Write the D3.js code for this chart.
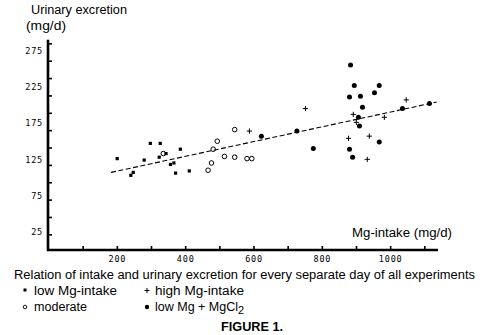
<!DOCTYPE html>
<html><head><meta charset="utf-8">
<script src="https://cdn.jsdelivr.net/npm/d3@7"></script>
<style>
body{margin:0;background:#fff}
svg{display:block}
.t{font-family:"Liberation Sans",Arial,sans-serif;fill:#000}
.tick text{font-family:"DejaVu Sans Mono",monospace;font-size:8.5px;letter-spacing:0.8px;fill:#000}
</style></head><body>
<script>
// ---- data ----
const lowMgX = [201,241,248,280,298,327,324,344,357,367,386,372,412];
const lowMgY = [126,103,107,124,147,147,128,133,118,120,139,106,109];
const moderateX = [336,467,477,482,494,515,545,545,581,595];
const moderateY = [133,110,120,139,150,129,166,128,126,126];
const highMgX = [588,752,892,901,983,1047,878,939,933];
const highMgY = [164,195,187,176,183,207,154,157,125];
const mgcl2X = [623,727,775,881,890,968,884,895,968,881,913,954,919,1036,1115,907,910];
const mgcl2Y = [157,164,140,139,128,149,255,227,227,211,212,217,197,195,202,183,171];
const fitX = [183,1136];
const fitY = [107,204];
const xTicks = [100,200,300,400,500,600,700,800,900,1000,1100];
const xTickLabels = [200,400,600,800,1000];
const yTicks = [25,50,75,100,125,150,175,200,225,250,275,300];
const yTickLabels = [25,75,125,175,225,275];

const W=495,H=335;
const svg=d3.select("body").append("svg").attr("width",W).attr("height",H);

const x=d3.scaleLinear().domain([0,1140]).range([48.5,438]);
const y=d3.scaleLinear().domain([0,290]).range([250,39.7]);
const yTickScale=d3.scaleLinear().domain([0,300]).range([251.7,43.35]);

// y tick marks
svg.append("g").attr("transform","translate(48,0)")
  .call(d3.axisLeft(yTickScale).tickValues(yTicks).tickSize(-4).tickFormat(""))
  .call(g=>g.select(".domain").remove())
  .call(g=>g.selectAll(".tick line").attr("stroke","#000").attr("stroke-width",1.6));
// y labels
svg.append("g").attr("transform","translate(48,0)")
  .call(d3.axisLeft(y).tickValues(yTickLabels).tickSize(0).tickPadding(5))
  .call(g=>g.select(".domain").remove());
// x axis
svg.append("g").attr("transform","translate(0,250)")
  .call(d3.axisBottom(x).tickValues(xTicks).tickSize(-4).tickPadding(5.5)
    .tickFormat(d=>xTickLabels.includes(d)?d:""))
  .call(g=>g.select(".domain").remove())
  .call(g=>g.selectAll(".tick line").attr("stroke","#000").attr("stroke-width",1.6));
// axis lines
svg.append("path").attr("d",`M48,${y.range()[1]}V250H438`).attr("fill","none")
  .attr("stroke","#000").attr("stroke-width",2.6);

// fit line
svg.append("path")
  .attr("d",d3.line()(fitX.map((v,i)=>[x(v),y(fitY[i])])))
  .attr("stroke","#000").attr("stroke-width",1.1).attr("fill","none")
  .attr("stroke-dasharray","5,2.5");

const pts=(xs,ys)=>xs.map((v,i)=>({x:v,y:ys[i]}));
// low Mg-intake squares
svg.append("g").selectAll("rect").data(pts(lowMgX,lowMgY)).join("rect")
  .attr("x",d=>x(d.x)-1.6).attr("y",d=>y(d.y)-1.6).attr("width",3.2).attr("height",3.2).attr("fill","#000");
// moderate open circles
svg.append("g").selectAll("circle").data(pts(moderateX,moderateY)).join("circle")
  .attr("cx",d=>x(d.x)).attr("cy",d=>y(d.y)).attr("r",2.3).attr("fill","none").attr("stroke","#000").attr("stroke-width",1);
// high plus
svg.append("g").selectAll("path").data(pts(highMgX,highMgY)).join("path")
  .attr("d",d=>`M${x(d.x)-2.6},${y(d.y)}h5.2M${x(d.x)},${y(d.y)-2.6}v5.2`).attr("stroke","#000").attr("stroke-width",1);
// MgCl2 filled
svg.append("g").selectAll("circle").data(pts(mgcl2X,mgcl2Y)).join("circle")
  .attr("cx",d=>x(d.x)).attr("cy",d=>y(d.y)).attr("r",2.5).attr("fill","#000");

// texts
function txt(s,xx,yy,opts={}){
  const t=svg.append("text").attr("class","t").attr("x",xx).attr("y",yy)
    .style("font-size",(opts.size||12)+"px").text(s);
  if(opts.bold) t.style("font-weight","bold");
  if(opts.anchor) t.attr("text-anchor",opts.anchor);
  if(opts.len) t.attr("textLength",opts.len).attr("lengthAdjust","spacingAndGlyphs");
  return t;
}
txt("Urinary excretion",31,14,{size:12.5,len:96});
txt("(mg/d)",26,29.5,{size:12.5,len:40});
txt("Mg\u2010intake (mg/d)",352,237,{size:12.5,len:100});
txt("Relation of intake and urinary excretion for every separate day of all experiments",14,278.5,{size:12.5,len:461});
txt("low Mg\u2010intake",34,294.5,{size:12.5,len:83});
txt("high Mg\u2010intake",155,294.5,{size:12.5,len:89});
txt("moderate",34,311,{size:12.5,len:53});
const t2=txt("",155,311,{size:12.5});
t2.append("tspan").text("low Mg + MgCl");
t2.append("tspan").attr("dy",3).style("font-size","11px").text("2");
txt("FIGURE 1.",252,331,{size:12.5,bold:true,anchor:"middle",len:62});

// legend markers
svg.append("rect").attr("x",23.5).attr("y",288.5).attr("width",3).attr("height",3).attr("fill","#000");
svg.append("path").attr("d","M144.5,290.5h5M147,288v5").attr("stroke","#000").attr("stroke-width",1);
svg.append("circle").attr("cx",25).attr("cy",307).attr("r",1.8).attr("fill","none").attr("stroke","#000").attr("stroke-width",0.9);
svg.append("circle").attr("cx",147).attr("cy",307).attr("r",2.2).attr("fill","#000");
</script>
</body></html>
